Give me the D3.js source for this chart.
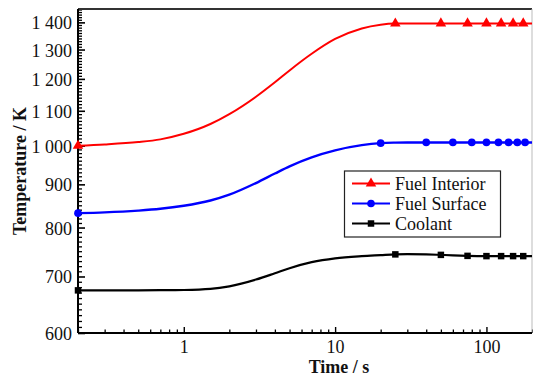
<!DOCTYPE html>
<html><head><meta charset="utf-8">
<script src="https://cdn.jsdelivr.net/npm/d3@7/dist/d3.min.js"></script>
<style>
html,body{margin:0;padding:0;background:#fff;}
svg{display:block;}
svg text{font-family:"Liberation Serif","Times New Roman",Times,"Nimbus Roman","DejaVu Serif","Noto Serif",serif !important;}
</style></head>
<body>
<svg id="chart" width="533" height="378"></svg>
<script>
// ---- data ----
const seriesNames = ["Fuel Interior", "Fuel Surface", "Coolant"];
const time = [0.2, 0.3, 0.5, 0.7, 1, 1.5, 2, 3, 4, 5, 7, 10, 15, 20, 25, 30, 40, 50, 60, 75, 100, 125, 150, 175, 200];
const fuelInterior = [1000, 1003.5, 1010, 1017.5, 1033, 1061, 1090, 1143, 1189, 1228, 1285, 1338, 1377, 1391, 1395.5, 1396, 1396, 1396, 1396, 1396, 1396, 1396, 1396, 1396, 1396];
const fuelSurface  = [832, 833.8, 837.8, 841.9, 848.9, 861.2, 875, 903.2, 927, 945.4, 968.8, 987.4, 1001.5, 1007, 1008.5, 1009, 1009, 1009, 1009, 1009, 1009, 1009, 1009, 1009, 1009];
const coolant      = [674, 674, 674.1, 674.3, 674.7, 676.7, 681.5, 694.2, 706.2, 716, 727.9, 735.6, 740, 742, 743.5, 744, 743.5, 742.5, 741.5, 740.5, 740, 740, 740, 740, 740];

const interiorMarkT = [0.2, 25, 50, 75, 100, 125, 150, 175];
const interiorMarkV = [1000, 1395.5, 1396, 1396, 1396, 1396, 1396, 1396];
const surfaceMarkT = [0.2, 20, 40, 60, 80, 100, 120, 140, 160, 180];
const surfaceMarkV = [832, 1007, 1009, 1009, 1009, 1009, 1009, 1009, 1009, 1009];
const coolantMarkT = [0.2, 25, 50, 75, 100, 125, 150, 175];
const coolantMarkV = [674, 743.5, 742.5, 740.5, 740, 740, 740, 740];

const xMajorTicks = [1, 10, 100];
const yMajorTicks = [600, 700, 800, 900, 1000, 1100, 1200, 1300, 1400];
const xLabel = "Time / s";
const yLabel = "Temperature / K";

// ---- layout ----
const L = 78, R = 532, T = 9, B = 333;
const FONT = "'Liberation Serif','Times New Roman',Times,'DejaVu Serif',serif";
const svg = d3.select("#chart");
const x = d3.scaleLog().domain([0.2, 200]).range([L, R]);
const y = d3.scaleLog().domain([600, 1452]).range([B, T]);

// minor ticks
const xMinor = [];
[0.1, 1, 10, 100].forEach(d => { for (let k = 2; k <= 9; k++) { const v = +(d * k).toFixed(3); if (v >= 0.2 && v <= 200 && !xMajorTicks.includes(v)) xMinor.push(v); } });
const yMinor = d3.range(600, 1451, 10).filter(v => v % 100 !== 0);

const yFmt = d => d >= 1000 ? String(d).slice(0, 1) + " " + String(d).slice(1) : String(d);

// y axis
const gy = svg.append("g").attr("transform", `translate(${L},0)`)
  .call(d3.axisLeft(y).tickValues(yMajorTicks).tickSize(-7).tickPadding(6).tickFormat(yFmt));
gy.attr("font-family", FONT);
gy.select(".domain").remove();
gy.selectAll(".tick line").attr("stroke", "#000").attr("stroke-width", 1.6);
gy.selectAll(".tick text").attr("font-size", 18).attr("fill", "#111").attr("font-family", FONT).attr("dy", "0.36em");
const gyMinor = svg.append("g").attr("transform", `translate(${L},0)`)
  .call(d3.axisLeft(y).tickValues(yMinor).tickSize(-4).tickFormat(""));
gyMinor.select(".domain").remove();
gyMinor.selectAll(".tick line").attr("stroke", "#000").attr("stroke-width", 1.3);

// x axis
const gx = svg.append("g").attr("transform", `translate(0,${B})`)
  .call(d3.axisBottom(x).tickValues(xMajorTicks).tickSize(-6).tickPadding(7).tickFormat(d3.format("d")));
gx.attr("font-family", FONT);
gx.select(".domain").remove();
gx.selectAll(".tick line").attr("stroke", "#000").attr("stroke-width", 1.4);
gx.selectAll(".tick text").attr("font-size", 18).attr("fill", "#111").attr("font-family", FONT).attr("dy", "0.72em");
const gxMinor = svg.append("g").attr("transform", `translate(0,${B})`)
  .call(d3.axisBottom(x).tickValues(xMinor).tickSize(-3.5).tickFormat(""));
gxMinor.select(".domain").remove();
gxMinor.selectAll(".tick line").attr("stroke", "#000").attr("stroke-width", 1.3);

// frame
svg.append("line").attr("x1", L).attr("x2", R).attr("y1", T).attr("y2", T).attr("stroke", "#333").attr("stroke-width", 2);
svg.append("line").attr("x1", R).attr("x2", R).attr("y1", T).attr("y2", B).attr("stroke", "#bbb").attr("stroke-width", 1);

// axis titles
svg.append("text").attr("x", 339).attr("y", 373).attr("text-anchor", "middle").attr("font-family", FONT)
  .attr("font-weight", "bold").attr("font-size", 18).attr("fill", "#111").text(xLabel);
svg.append("text").attr("transform", "translate(26,171) rotate(-90)").attr("text-anchor", "middle").attr("font-family", FONT)
  .attr("font-weight", "bold").attr("font-size", 18).attr("fill", "#111").text(yLabel);

// lines
const series = [
  { name: seriesNames[0], vals: fuelInterior, color: "#ff0000", w: 2, mt: interiorMarkT, mv: interiorMarkV, shape: d3.symbolTriangle, size: 48 },
  { name: seriesNames[1], vals: fuelSurface, color: "#0000ff", w: 2.4, mt: surfaceMarkT, mv: surfaceMarkV, shape: d3.symbolCircle, size: 46 },
  { name: seriesNames[2], vals: coolant, color: "#000000", w: 2.2, mt: coolantMarkT, mv: coolantMarkV, shape: d3.symbolSquare, size: 42 }
];
const line = d3.line().x(d => x(d[0])).y(d => y(d[1])).curve(d3.curveMonotoneX);
series.forEach(s => {
  svg.append("path").datum(time.map((t, i) => [t, s.vals[i]])).attr("d", line)
    .attr("fill", "none").attr("stroke", s.color).attr("stroke-width", s.w);
});

// main axis lines
svg.append("line").attr("x1", L).attr("x2", L).attr("y1", T).attr("y2", B).attr("stroke", "#000").attr("stroke-width", 2);
svg.append("line").attr("x1", L).attr("x2", R).attr("y1", B).attr("y2", B).attr("stroke", "#000").attr("stroke-width", 2);

// markers
series.forEach(s => {
  svg.append("g").selectAll("path").data(s.mt.map((t, i) => [t, s.mv[i]])).join("path")
    .attr("d", d3.symbol().type(s.shape).size(s.size))
    .attr("transform", d => `translate(${x(d[0])},${y(d[1])})`)
    .attr("fill", s.color);
});

// legend
const lg = svg.append("g");
lg.append("rect").attr("x", 344.5).attr("y", 171).attr("width", 156).attr("height", 66)
  .attr("fill", "#fff").attr("stroke", "#222").attr("stroke-width", 1.2);
series.forEach((s, i) => {
  const cy = 183.5 + i * 20;
  lg.append("line").attr("x1", 352).attr("x2", 390).attr("y1", cy).attr("y2", cy).attr("stroke", s.color).attr("stroke-width", 2);
  lg.append("path").attr("d", d3.symbol().type(s.shape).size(s.size)()).attr("transform", `translate(371,${cy})`).attr("fill", s.color);
  lg.append("text").attr("x", 395).attr("y", cy + 6).attr("font-family", FONT).attr("font-size", 18).attr("fill", "#111").text(s.name);
});
</script>
</body></html>
